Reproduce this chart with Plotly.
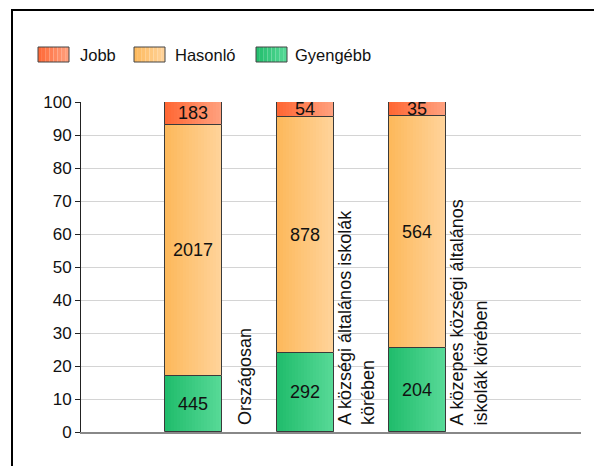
import plotly.graph_objects as go

# ---- data ----
categories = ["Országosan",
              "A községi általános iskolák<br>körében",
              "A közepes községi általános<br>iskolák körében"]
series_names = ["Gyengébb", "Hasonló", "Jobb"]
gyengebb = [445, 292, 204]
hasonlo = [2017, 878, 564]
jobb = [183, 54, 35]
y_ticks = [0, 10, 20, 30, 40, 50, 60, 70, 80, 90, 100]

series_values = [gyengebb, hasonlo, jobb]
grad = {
    "Gyengébb": ((0x20, 0xBC, 0x6B), (0x58, 0xDA, 0x98)),
    "Hasonló": ((0xFD, 0xB8, 0x5A), (0xFF, 0xD4, 0x9C)),
    "Jobb": ((0xFF, 0x66, 0x33), (0xFF, 0xA2, 0x80)),
}
FONT = "Liberation Sans, Arial"

totals = [sum(v) for v in zip(*series_values)]
xs = list(range(len(categories)))
W = 0.509
N = 19

fig = go.Figure()
cum = [0.0] * len(categories)
for name, vals in zip(series_names, series_values):
    pct = [v / t * 100 for v, t in zip(vals, totals)]
    c0, c1 = grad[name]
    for k in range(N):
        f = (k + 0.5) / N
        col = "rgb(%d,%d,%d)" % tuple(round(a + (b - a) * f) for a, b in zip(c0, c1))
        fig.add_trace(go.Bar(
            x=xs, y=pct, base=cum, width=W / N, offset=-W / 2 + k * W / N,
            marker=dict(color=col, line=dict(width=0)),
            showlegend=False, hoverinfo="skip"))
    fig.add_trace(go.Bar(
        x=xs, y=pct, base=cum, width=W,
        marker=dict(color="rgba(0,0,0,0)", line=dict(color="#3a3a3a", width=1)),
        text=[str(v) for v in vals], textposition="inside",
        insidetextanchor="middle", constraintext="none",
        textfont=dict(family=FONT, size=18, color="#111"),
        showlegend=False, name=name))
    cum = [c + p for c, p in zip(cum, pct)]

# category labels (rotated, to the right of each bar)
for x, lab in zip(xs, categories):
    fig.add_annotation(x=x, y=0, xref="x", yref="y", text=lab, textangle=-90,
                       showarrow=False, xanchor="center", yanchor="bottom",
                       xshift=51, yshift=5, align="left",
                       font=dict(family=FONT, size=18, color="#111"))

# helpers for pixel -> paper
L, R, T, B = 81, 581, 102, 432
def px(x):
    return (x - L) / (R - L)
def py(y):
    return (B - y) / (B - T)

shapes = []
# outer frame
shapes.append(dict(type="rect", xref="paper", yref="paper",
                   x0=px(12), x1=px(640), y0=py(10), y1=py(520),
                   line=dict(color="#000", width=2), fillcolor="rgba(0,0,0,0)", layer="below"))

# custom legend
legend_items = [("Jobb", 38, 78), ("Hasonló", 134, 173), ("Gyengébb", 256, 293)]
for name, bx, tx in legend_items:
    c0, c1 = grad[name]
    steps = 8
    for k in range(steps):
        f = (k + 0.5) / steps
        col = "rgb(%d,%d,%d)" % tuple(round(a + (b - a) * f) for a, b in zip(c0, c1))
        shapes.append(dict(type="rect", xref="paper", yref="paper",
                           x0=px(bx + k * 31 / steps), x1=px(bx + (k + 1) * 31 / steps),
                           y0=py(62), y1=py(47), line=dict(width=0), fillcolor=col))
    shapes.append(dict(type="rect", xref="paper", yref="paper",
                       x0=px(bx), x1=px(bx + 31), y0=py(62), y1=py(47),
                       line=dict(color="#444", width=1), fillcolor="rgba(0,0,0,0)"))
    fig.add_annotation(x=px(tx), y=py(55), xref="paper", yref="paper", text=name,
                       showarrow=False, xanchor="left", yanchor="middle",
                       font=dict(family=FONT, size=16.5, color="#111"))

fig.update_layout(
    width=594, height=466,
    margin=dict(l=L, r=594 - R, t=T, b=466 - B),
    barmode="overlay", bargap=0,
    plot_bgcolor="white", paper_bgcolor="white",
    shapes=shapes,
    font=dict(family=FONT, size=16, color="#111"),
    uniformtext=dict(minsize=18, mode="show"),
)
fig.update_xaxes(range=[-1.004, 3.46], showticklabels=False, ticks="",
                 showgrid=False, zeroline=False, showline=True,
                 linecolor="#888", linewidth=2, fixedrange=True)
fig.update_yaxes(range=[0, 100], tickvals=y_ticks, ticks="outside", ticklen=5,
                 tickcolor="#222", showline=True, linecolor="#222", linewidth=1,
                 gridcolor="#d4d4d4", gridwidth=1, zeroline=False,
                 tickfont=dict(family=FONT, size=17, color="#111"),
                 fixedrange=True)

fig.write_html("out.html", config={"displayModeBar": False},
               post_script="document.body.style.margin='0px';")
